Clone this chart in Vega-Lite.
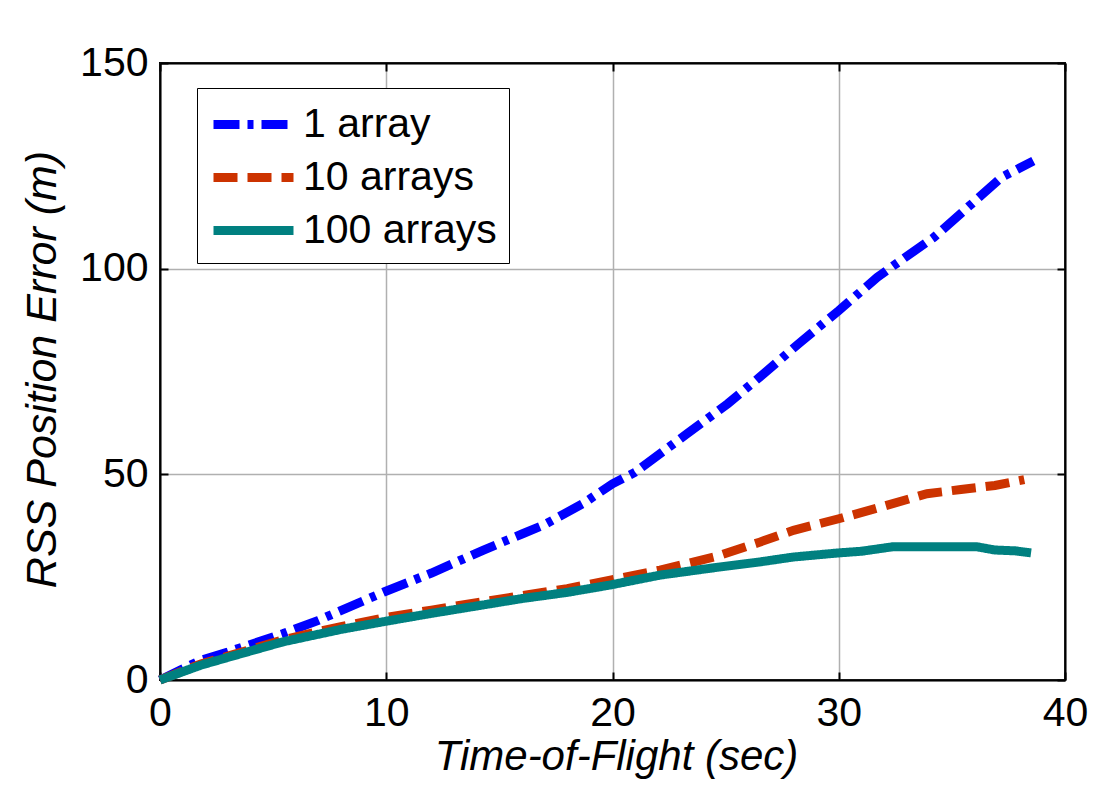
{
  "$schema": "https://vega.github.io/schema/vega-lite/v6.json",
  "width": 905,
  "height": 617,
  "autosize": {"type": "none"},
  "padding": {"left": 160, "top": 63, "right": 46, "bottom": 105},
  "background": "white",
  "config": {
    "font": "Liberation Sans",
    "view": {"stroke": "black", "strokeWidth": 2}
  },
  "data": {
    "values": [
      {"t": 0, "e": 0, "s": "1 array"},
      {"t": 1.8, "e": 4.8, "s": "1 array"},
      {"t": 3, "e": 6.8, "s": "1 array"},
      {"t": 5.45, "e": 11.3, "s": "1 array"},
      {"t": 7, "e": 14.5, "s": "1 array"},
      {"t": 9.9, "e": 21.4, "s": "1 array"},
      {"t": 12, "e": 26, "s": "1 array"},
      {"t": 14.3, "e": 31.6, "s": "1 array"},
      {"t": 16, "e": 35.5, "s": "1 array"},
      {"t": 17, "e": 37.8, "s": "1 array"},
      {"t": 18.7, "e": 42.9, "s": "1 array"},
      {"t": 20, "e": 47.7, "s": "1 array"},
      {"t": 21, "e": 50.5, "s": "1 array"},
      {"t": 23.3, "e": 59.9, "s": "1 array"},
      {"t": 25.1, "e": 67.2, "s": "1 array"},
      {"t": 26.5, "e": 73.6, "s": "1 array"},
      {"t": 28.3, "e": 82.1, "s": "1 array"},
      {"t": 30, "e": 89.8, "s": "1 array"},
      {"t": 31.7, "e": 97.9, "s": "1 array"},
      {"t": 33, "e": 103, "s": "1 array"},
      {"t": 34.2, "e": 107.6, "s": "1 array"},
      {"t": 35.7, "e": 114.9, "s": "1 array"},
      {"t": 37.2, "e": 122.2, "s": "1 array"},
      {"t": 38.6, "e": 126.2, "s": "1 array"},
      {"t": 0, "e": 0, "s": "10 arrays"},
      {"t": 1.8, "e": 3.9, "s": "10 arrays"},
      {"t": 3, "e": 5.8, "s": "10 arrays"},
      {"t": 5.45, "e": 9.8, "s": "10 arrays"},
      {"t": 8, "e": 13, "s": "10 arrays"},
      {"t": 10, "e": 15.2, "s": "10 arrays"},
      {"t": 12, "e": 17, "s": "10 arrays"},
      {"t": 14, "e": 18.8, "s": "10 arrays"},
      {"t": 16, "e": 20.5, "s": "10 arrays"},
      {"t": 18, "e": 22.2, "s": "10 arrays"},
      {"t": 19.9, "e": 24.3, "s": "10 arrays"},
      {"t": 22.1, "e": 26.7, "s": "10 arrays"},
      {"t": 24.5, "e": 29.9, "s": "10 arrays"},
      {"t": 26.5, "e": 33.5, "s": "10 arrays"},
      {"t": 28, "e": 36.4, "s": "10 arrays"},
      {"t": 30, "e": 39.2, "s": "10 arrays"},
      {"t": 31.9, "e": 42.1, "s": "10 arrays"},
      {"t": 33.9, "e": 45.3, "s": "10 arrays"},
      {"t": 35.4, "e": 46.3, "s": "10 arrays"},
      {"t": 36.9, "e": 47.3, "s": "10 arrays"},
      {"t": 38.2, "e": 48.7, "s": "10 arrays"},
      {"t": 0, "e": 0, "s": "100 arrays"},
      {"t": 1.8, "e": 3.6, "s": "100 arrays"},
      {"t": 3, "e": 5.5, "s": "100 arrays"},
      {"t": 5.45, "e": 9.3, "s": "100 arrays"},
      {"t": 8, "e": 12.3, "s": "100 arrays"},
      {"t": 9.9, "e": 14.2, "s": "100 arrays"},
      {"t": 12, "e": 16.2, "s": "100 arrays"},
      {"t": 14, "e": 18, "s": "100 arrays"},
      {"t": 16, "e": 19.8, "s": "100 arrays"},
      {"t": 18, "e": 21.3, "s": "100 arrays"},
      {"t": 19.9, "e": 23.1, "s": "100 arrays"},
      {"t": 22.1, "e": 25.5, "s": "100 arrays"},
      {"t": 24.5, "e": 27.3, "s": "100 arrays"},
      {"t": 26.5, "e": 28.7, "s": "100 arrays"},
      {"t": 28, "e": 29.9, "s": "100 arrays"},
      {"t": 30, "e": 30.9, "s": "100 arrays"},
      {"t": 31, "e": 31.3, "s": "100 arrays"},
      {"t": 32.4, "e": 32.4, "s": "100 arrays"},
      {"t": 34, "e": 32.4, "s": "100 arrays"},
      {"t": 36.1, "e": 32.4, "s": "100 arrays"},
      {"t": 36.9, "e": 31.6, "s": "100 arrays"},
      {"t": 37.8, "e": 31.4, "s": "100 arrays"},
      {"t": 38.5, "e": 30.9, "s": "100 arrays"}
    ]
  },
  "layer": [
    {
      "mark": {"type": "line", "strokeWidth": 9},
      "encoding": {
        "x": {
          "field": "t",
          "type": "quantitative",
          "scale": {"domain": [0, 40], "nice": false, "zero": false},
          "axis": {
            "values": [0, 10, 20, 30, 40],
            "title": "Time-of-Flight (sec)",
            "titleFontSize": 42,
            "titleFontStyle": "italic",
            "titleFontWeight": "normal",
            "titleColor": "black",
            "titleX": 456,
            "titleY": 89,
            "titleAlign": "center",
            "titleBaseline": "alphabetic",
            "labelFontSize": 41,
            "labelColor": "black",
            "labelFlush": false,
            "labelPadding": 21,
            "tickSize": -8,
            "tickColor": "black",
            "tickWidth": 2,
            "domainColor": "black",
            "domainWidth": 2,
            "grid": true,
            "gridColor": "#b0b0b0",
            "gridWidth": 1.5
          }
        },
        "y": {
          "field": "e",
          "type": "quantitative",
          "scale": {"domain": [0, 150], "nice": false},
          "axis": {
            "values": [0, 50, 100, 150],
            "title": "RSS Position Error (m)",
            "titleFontSize": 43,
            "titleFontStyle": "italic",
            "titleFontWeight": "normal",
            "titleColor": "black",
            "titleX": -105,
            "titleY": 306,
            "titleAngle": 270,
            "titleAlign": "center",
            "titleBaseline": "alphabetic",
            "labelFontSize": 41,
            "labelColor": "black",
            "labelFlush": false,
            "labelPadding": 20,
            "tickSize": -8,
            "tickColor": "black",
            "tickWidth": 2,
            "domainColor": "black",
            "domainWidth": 2,
            "grid": true,
            "gridColor": "#b0b0b0",
            "gridWidth": 1.5
          }
        },
        "color": {
          "field": "s",
          "type": "nominal",
          "scale": {"domain": ["1 array", "10 arrays", "100 arrays"], "range": ["#0000ff", "#cc3300", "#008080"]},
          "legend": {
            "title": null,
            "orient": "none",
            "legendX": 37,
            "legendY": 25,
            "labelFontSize": 41,
            "labelColor": "black",
            "labelLimit": 400,
            "symbolType": "M-1,0H3",
            "symbolSize": 1600,
            "symbolStrokeWidth": 9,
            "strokeColor": "black",
            "fillColor": "white",
            "padding": 12,
            "labelOffset": 45,
            "rowPadding": 8
          }
        },
        "strokeDash": {
          "field": "s",
          "type": "nominal",
          "scale": {"domain": ["1 array", "10 arrays", "100 arrays"], "range": [[26, 8, 6, 8], [24, 10], [1, 0]]}
        }
      }
    },
    {
      "mark": {"type": "line", "opacity": 0},
      "encoding": {
        "x": {
          "field": "t",
          "type": "quantitative",
          "axis": {"orient": "top", "values": [0, 10, 20, 30, 40], "labels": false, "title": null, "grid": false, "tickSize": -8, "tickColor": "black", "tickWidth": 2, "domainColor": "black", "domainWidth": 2}
        },
        "y": {
          "field": "e",
          "type": "quantitative",
          "axis": {"orient": "right", "values": [0, 50, 100, 150], "labels": false, "title": null, "grid": false, "tickSize": -8, "tickColor": "black", "tickWidth": 2, "domainColor": "black", "domainWidth": 2}
        },
        "detail": {"field": "s"}
      }
    }
  ],
  "resolve": {"axis": {"x": "independent", "y": "independent"}}
}
